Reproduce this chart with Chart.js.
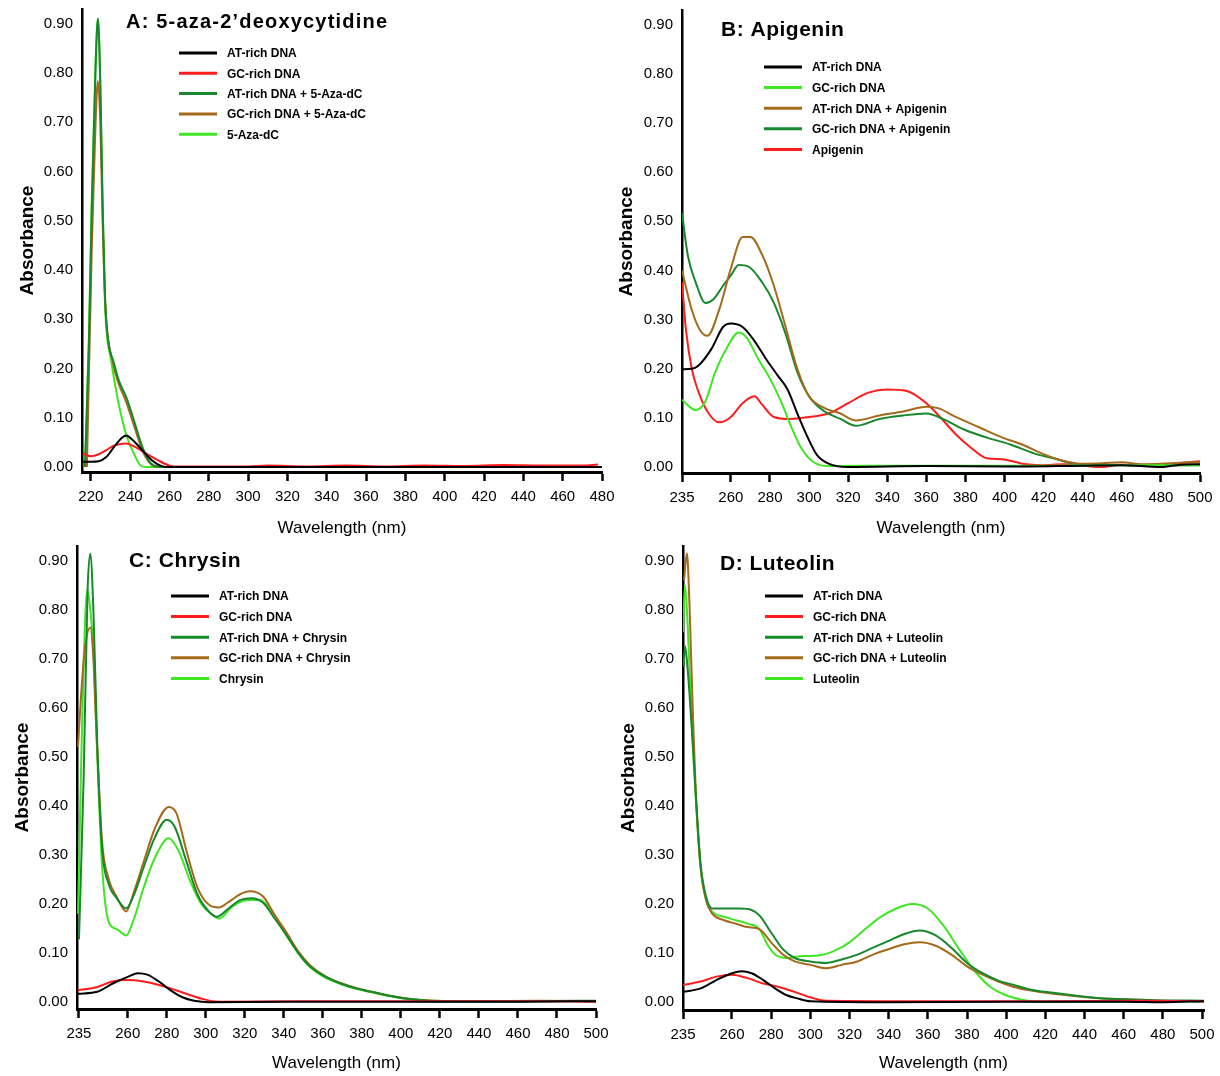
<!DOCTYPE html>
<html>
<head>
<meta charset="utf-8">
<script src="https://cdn.jsdelivr.net/npm/chart.js@4.4.1/dist/chart.umd.min.js"></script>
<style>
  body { margin: 0; background: #fff; }
  #wrap { position: relative; width: 1220px; height: 1076px; }
  .panel { position: absolute; }
</style>
</head>
<body>
<div id="wrap">
  <div class="panel" style="left:0;top:0;width:625px;height:540px"><canvas id="chartA"></canvas></div>
  <div class="panel" style="left:610px;top:0;width:610px;height:540px"><canvas id="chartB"></canvas></div>
  <div class="panel" style="left:0;top:540px;width:610px;height:536px"><canvas id="chartC"></canvas></div>
  <div class="panel" style="left:610px;top:540px;width:610px;height:536px"><canvas id="chartD"></canvas></div>
</div>
<script>
// tick labels
const yTicks = [0, 0.1, 0.2, 0.3, 0.4, 0.5, 0.6, 0.7, 0.8, 0.9];
const xTicksA = [220, 240, 260, 280, 300, 320, 340, 360, 380, 400, 420, 440, 460, 480];
const xTicksBCD = [235, 260, 280, 300, 320, 340, 360, 380, 400, 420, 440, 460, 480, 500];

// A: 5-aza-2'deoxycytidine
const aWlAT = [216, 220, 224, 228, 232, 236, 238, 241, 246, 251, 256, 260, 300, 360, 420, 480];
const aAbAT = [0.011, 0.011, 0.012, 0.021, 0.042, 0.060, 0.064, 0.056, 0.035, 0.014, 0.002, 0, 0, 0, 0, 0];
const aWlGC = [216, 220, 224, 228, 232, 234, 238, 242, 248, 254, 260, 264, 300, 310, 330, 350, 370, 390, 410, 430, 450, 470, 478];
const aAbGC = [0.028, 0.022, 0.026, 0.035, 0.044, 0.046, 0.048, 0.042, 0.028, 0.014, 0.003, 0.001, 0.001, 0.003, 0.001, 0.003, 0.001, 0.003, 0.002, 0.004, 0.003, 0.003, 0.005];
const aWlATDrug = [217, 219, 220.5, 222.4, 223.6, 224.8, 226, 227.3, 229.3, 231.3, 234.3, 238.2, 242.2, 246.1, 250, 254, 260, 480];
const aAbATDrug = [0, 0.25, 0.53, 0.81, 0.91, 0.78, 0.53, 0.336, 0.245, 0.217, 0.175, 0.14, 0.091, 0.042, 0.01, 0.001, 0, 0];
const aWlGCDrug = [218, 220.5, 222.4, 223.6, 224.8, 226, 227.3, 231.3, 234.3, 238.2, 242.2, 246.1, 250, 254, 480];
const aAbGCDrug = [0, 0.45, 0.70, 0.784, 0.70, 0.50, 0.336, 0.21, 0.168, 0.13, 0.081, 0.035, 0.008, 0, 0];
const aWlDrug = [217, 219, 220.5, 222.4, 223.6, 224.8, 226, 227.3, 230.3, 234.3, 238.2, 242.2, 245, 248, 480];
const aAbDrug = [0, 0.26, 0.55, 0.82, 0.91, 0.78, 0.52, 0.322, 0.217, 0.126, 0.063, 0.025, 0.004, 0, 0];

// B: Apigenin
const bWlAT = [235, 240, 243, 250, 256, 260, 266, 272, 278, 284, 289, 294, 299, 304, 310, 320, 360, 400, 440, 460, 480, 490, 500];
const bAbAT = [0.199, 0.200, 0.205, 0.240, 0.285, 0.292, 0.285, 0.257, 0.220, 0.186, 0.158, 0.109, 0.063, 0.025, 0.007, 0, 0.002, 0.001, 0.003, 0.004, 0, 0.005, 0.006];
const bWlGC = [235, 242, 247, 252, 258, 264, 268, 274, 280, 286, 291, 296, 302, 310, 360, 420, 460, 500];
const bAbGC = [0.137, 0.116, 0.134, 0.193, 0.243, 0.274, 0.264, 0.220, 0.180, 0.130, 0.081, 0.039, 0.011, 0.002, 0.003, 0.003, 0.004, 0.004];
const bWlATDrug = [235, 240, 244, 248, 254, 260, 266, 270, 276, 282, 288, 294, 300, 308, 316, 324, 336, 348, 360, 366, 375, 387, 399, 409, 419, 429, 439, 450, 460, 470, 480, 490, 500];
const bAbATDrug = [0.40, 0.32, 0.28, 0.267, 0.32, 0.404, 0.468, 0.468, 0.432, 0.369, 0.285, 0.200, 0.144, 0.120, 0.109, 0.095, 0.105, 0.113, 0.123, 0.120, 0.102, 0.081, 0.060, 0.046, 0.028, 0.014, 0.007, 0.008, 0.010, 0.006, 0.007, 0.009, 0.010];
const bWlGCDrug = [235, 238, 242, 247, 251, 256, 260, 264, 269, 276, 282, 288, 294, 300, 308, 316, 324, 336, 348, 360, 370, 379, 391, 403, 415, 425, 435, 450, 470, 500];
const bAbGCDrug = [0.517, 0.43, 0.376, 0.334, 0.341, 0.369, 0.390, 0.411, 0.408, 0.376, 0.334, 0.271, 0.193, 0.144, 0.113, 0.098, 0.084, 0.098, 0.105, 0.109, 0.095, 0.077, 0.060, 0.046, 0.028, 0.018, 0.007, 0.005, 0.003, 0.004];
const bWlDrug = [235, 237, 240, 243, 248, 254, 260, 266, 272, 276, 282, 290, 300, 310, 320, 330, 340, 350, 360, 367, 375, 383, 391, 399, 409, 419, 430, 440, 450, 460, 470, 480, 490, 500];
const bAbDrug = [0.376, 0.28, 0.20, 0.158, 0.113, 0.091, 0.102, 0.130, 0.144, 0.127, 0.102, 0.098, 0.102, 0.109, 0.130, 0.151, 0.158, 0.155, 0.130, 0.102, 0.067, 0.039, 0.018, 0.016, 0.007, 0.004, 0.006, 0.003, 0, 0.005, 0.004, 0.003, 0.008, 0.012];

// C: Chrysin
const cWlAT = [234.5, 244.4, 252.3, 260.3, 265.2, 270, 276, 282, 288, 294, 301.8, 340, 400, 460, 500];
const cAbAT = [0.017, 0.021, 0.038, 0.052, 0.059, 0.056, 0.042, 0.024, 0.010, 0.003, 0, 0.001, 0.001, 0.001, 0.002];
const cWlGC = [234.5, 244.4, 252, 260, 268, 276, 282, 290, 298, 306, 350, 420, 470, 500];
const cAbGC = [0.024, 0.031, 0.042, 0.045, 0.042, 0.035, 0.028, 0.017, 0.007, 0.001, 0.002, 0.002, 0.002, 0.001];
const cWlATDrug = [235, 237.4, 239.4, 240.8, 242.4, 244.4, 246.8, 250.3, 254.3, 259.2, 263.2, 268.1, 274, 280, 284, 290, 295.8, 301.8, 305.7, 311.7, 317.6, 323.6, 329.5, 335.4, 341.4, 347.3, 353.3, 361.2, 369.1, 377, 385, 392.9, 400.8, 408.7, 416.6, 440, 470, 500];
const cAbATDrug = [0.128, 0.455, 0.837, 0.914, 0.80, 0.525, 0.316, 0.240, 0.212, 0.191, 0.219, 0.274, 0.337, 0.372, 0.358, 0.288, 0.219, 0.184, 0.174, 0.191, 0.208, 0.212, 0.202, 0.170, 0.136, 0.101, 0.073, 0.052, 0.038, 0.028, 0.021, 0.014, 0.008, 0.005, 0.002, 0.002, 0.002, 0.003];
const cWlGCDrug = [234.5, 236, 238, 240.8, 242.4, 243.5, 246.8, 250.3, 254.3, 259.2, 263.2, 268.1, 274, 281, 285, 290, 295.8, 301.8, 306.7, 312, 317.6, 322.6, 329.5, 335.4, 341.4, 347.3, 353.3, 361.2, 369.1, 377, 385, 392.9, 400.8, 408.7, 416.6, 440, 470, 500];
const cAbGCDrug = [0.52, 0.62, 0.72, 0.764, 0.70, 0.594, 0.33, 0.25, 0.215, 0.185, 0.225, 0.285, 0.355, 0.398, 0.385, 0.310, 0.233, 0.198, 0.193, 0.205, 0.220, 0.226, 0.215, 0.177, 0.142, 0.104, 0.076, 0.053, 0.039, 0.029, 0.021, 0.014, 0.009, 0.005, 0.003, 0.002, 0.003, 0.002];
const cWlDrug = [234.5, 236.5, 238.4, 239.4, 240.8, 242.4, 244.4, 246.8, 250.3, 254.3, 259.2, 263.2, 268.1, 274, 281, 286, 292, 298, 303.8, 306.7, 313.7, 321.6, 327.5, 333.5, 341.4, 347.3, 353.3, 361.2, 369.1, 377, 385, 392.9, 400.8, 408.7, 418, 440, 500];
const cAbDrug = [0.18, 0.55, 0.80, 0.84, 0.80, 0.72, 0.50, 0.281, 0.163, 0.149, 0.136, 0.170, 0.233, 0.295, 0.334, 0.309, 0.247, 0.198, 0.177, 0.170, 0.195, 0.208, 0.208, 0.188, 0.136, 0.100, 0.072, 0.050, 0.037, 0.027, 0.020, 0.013, 0.008, 0.005, 0.003, 0.002, 0.002];

// D: Luteolin
const dWlAT = [235, 244, 252, 260, 265, 270, 276, 282, 288, 294, 300, 340, 400, 460, 480, 501];
const dAbAT = [0.021, 0.028, 0.045, 0.059, 0.063, 0.059, 0.045, 0.028, 0.014, 0.007, 0.002, 0, 0.001, 0.001, 0, 0.002];
const dWlGC = [235, 244, 252, 260, 268, 276, 284, 292, 300, 308, 360, 420, 470, 501];
const dAbGC = [0.035, 0.042, 0.052, 0.056, 0.049, 0.038, 0.031, 0.021, 0.010, 0.003, 0.002, 0.002, 0.003, 0.002];
const dWlATDrug = [235.3, 236, 237.4, 240, 241.6, 244, 247, 250, 256, 264, 270, 274, 280, 286, 292, 300, 308, 316, 324, 332, 340, 348, 356, 364, 372, 380, 388, 396, 404, 412, 424, 436, 448, 460, 476, 501];
const dAbATDrug = [0.685, 0.726, 0.678, 0.525, 0.42, 0.281, 0.212, 0.191, 0.191, 0.191, 0.188, 0.177, 0.142, 0.108, 0.090, 0.083, 0.080, 0.087, 0.097, 0.111, 0.125, 0.139, 0.146, 0.136, 0.111, 0.080, 0.059, 0.044, 0.035, 0.026, 0.019, 0.013, 0.008, 0.006, 0.004, 0.003];
const dWlGCDrug = [235.5, 237, 238.4, 240, 241.6, 244, 247, 250, 256, 262, 268, 274, 280, 286, 292, 300, 308, 316, 324, 332, 340, 348, 356, 364, 372, 380, 388, 396, 404, 412, 424, 436, 448, 460, 476, 501];
const dAbGCDrug = [0.86, 0.915, 0.80, 0.594, 0.42, 0.274, 0.205, 0.180, 0.167, 0.160, 0.153, 0.149, 0.122, 0.097, 0.083, 0.076, 0.069, 0.076, 0.083, 0.097, 0.108, 0.118, 0.122, 0.115, 0.097, 0.073, 0.056, 0.042, 0.031, 0.024, 0.017, 0.012, 0.008, 0.006, 0.003, 0.002];
const dWlDrug = [235, 236, 237.4, 240, 241.6, 244, 247, 250, 256, 262, 268, 274, 278, 282, 288, 296, 304, 312, 320, 328, 336, 344, 352, 360, 368, 376, 384, 392, 400, 408, 416, 460, 501];
const dAbDrug = [0.754, 0.85, 0.768, 0.525, 0.41, 0.274, 0.205, 0.184, 0.174, 0.167, 0.160, 0.149, 0.118, 0.097, 0.090, 0.094, 0.095, 0.104, 0.122, 0.149, 0.174, 0.191, 0.200, 0.191, 0.156, 0.108, 0.063, 0.031, 0.014, 0.005, 0.001, 0.001, 0.002];

const BLACK = '#000000';
const RED = '#ff1c1c';
const DKGREEN = '#17882c';
const BROWN = '#a5691b';
const LTGREEN = '#3ee624';

const FONT = '"Liberation Sans", Arial, sans-serif';
const NARROW = '"Liberation Sans Narrow", "Arial Narrow", "Liberation Sans", Arial, sans-serif';

// title + legend drawn inside the plot, like the original figure
const decor = {
  id: 'panelDecor',
  afterDraw(chart, args, o) {
    const ctx = chart.ctx;
    ctx.save();
    ctx.fillStyle = '#000';
    ctx.textBaseline = 'middle';
    ctx.textAlign = 'left';
    ctx.font = 'bold ' + o.titleSize + 'px ' + FONT;
    ctx.letterSpacing = o.titleSpacing + 'px';
    ctx.fillText(o.title, o.titleX, o.titleY);
    ctx.letterSpacing = '0px';
    ctx.font = 'bold 12px ' + FONT;
    chart.data.datasets.forEach((ds, i) => {
      const y = o.legY + i * o.legGap;
      ctx.strokeStyle = ds.borderColor;
      ctx.lineWidth = 3;
      ctx.beginPath();
      ctx.moveTo(o.legX, y);
      ctx.lineTo(o.legX + 38, y);
      ctx.stroke();
      ctx.fillText(ds.label, o.legX + 48, y + 1);
    });
    ctx.restore();
  }
};

function series(label, wl, ab, color) {
  return {
    label: label,
    data: wl.map((x, i) => ({ x: x, y: ab[i] })),
    borderColor: color,
    borderWidth: 2,
    pointRadius: 0,
    fill: false,
    cubicInterpolationMode: 'monotone'
  };
}

function noPad(s) {
  s.paddingLeft = 0; s.paddingRight = 0; s.paddingTop = 0; s.paddingBottom = 0;
}

function makeChart(id, p) {
  return new Chart(document.getElementById(id), {
    type: 'line',
    data: { datasets: p.datasets },
    options: {
      responsive: true,
      maintainAspectRatio: false,
      animation: false,
      layout: { autoPadding: false, padding: { left: 0, right: p.padRight, top: p.padTop, bottom: 0 } },
      plugins: {
        legend: { display: false },
        tooltip: { enabled: false },
        panelDecor: p.decor
      },
      scales: {
        x: {
          type: 'linear',
          min: p.xMin,
          max: p.xMax,
          afterBuildTicks: s => { s.ticks = p.xTicks.map(v => ({ value: v })); },
          afterFit: s => { s.height = p.xHeight; noPad(s); },
          grid: { display: true, drawOnChartArea: false, drawTicks: true, tickLength: 9, tickWidth: 2.5, tickColor: '#000' },
          border: { display: true, color: '#000', width: 3 },
          ticks: { color: '#000', font: { family: NARROW, size: 15 }, padding: 7, maxRotation: 0, autoSkip: false },
          title: { display: true, text: 'Wavelength (nm)', color: '#000', font: { family: FONT, size: 17 }, padding: { top: 0, bottom: p.xTitlePad } }
        },
        y: {
          type: 'linear',
          min: p.yMin,
          max: 0.93,
          afterBuildTicks: s => { s.ticks = yTicks.map(v => ({ value: v })); },
          afterFit: s => { s.width = p.yWidth; noPad(s); },
          grid: { display: false, drawTicks: false },
          border: { display: true, color: '#000', width: 2.5 },
          ticks: { color: '#000', font: { family: NARROW, size: 15 }, padding: 9, callback: v => v.toFixed(2) },
          title: { display: true, text: 'Absorbance', color: '#000', font: { family: FONT, size: 19, weight: 'bold' }, padding: { top: p.yTitlePad, bottom: 0 } }
        }
      }
    },
    plugins: [decor]
  });
}

makeChart('chartA', {
  datasets: [
    series('AT-rich DNA', aWlAT, aAbAT, BLACK),
    series('GC-rich DNA', aWlGC, aAbGC, RED),
    series('AT-rich DNA + 5-Aza-dC', aWlATDrug, aAbATDrug, DKGREEN),
    series('GC-rich DNA + 5-Aza-dC', aWlGCDrug, aAbGCDrug, BROWN),
    series('5-Aza-dC', aWlDrug, aAbDrug, LTGREEN)
  ],
  xMin: 215.5, xMax: 480, xTicks: xTicksA, yMin: -0.010,
  padRight: 23, padTop: 9, xHeight: 68, yWidth: 82, xTitlePad: 1, yTitlePad: 16,
  decor: { title: 'A: 5-aza-2\u2019deoxycytidine', titleSize: 20, titleSpacing: 1.2, titleX: 126, titleY: 22,
           legX: 179, legY: 53, legGap: 20.3 }
});

makeChart('chartB', {
  datasets: [
    series('AT-rich DNA', bWlAT, bAbAT, BLACK),
    series('GC-rich DNA', bWlGC, bAbGC, LTGREEN),
    series('AT-rich DNA + Apigenin', bWlATDrug, bAbATDrug, BROWN),
    series('GC-rich DNA + Apigenin', bWlGCDrug, bAbGCDrug, DKGREEN),
    series('Apigenin', bWlDrug, bAbDrug, RED)
  ],
  xMin: 235, xMax: 500, xTicks: xTicksBCD, yMin: -0.012,
  padRight: 20, padTop: 10, xHeight: 67, yWidth: 72, xTitlePad: 1, yTitlePad: 5,
  decor: { title: 'B: Apigenin', titleSize: 21, titleSpacing: 0.5, titleX: 111, titleY: 30,
           legX: 154, legY: 67, legGap: 20.6 }
});

makeChart('chartC', {
  datasets: [
    series('AT-rich DNA', cWlAT, cAbAT, BLACK),
    series('GC-rich DNA', cWlGC, cAbGC, RED),
    series('AT-rich DNA + Chrysin', cWlATDrug, cAbATDrug, DKGREEN),
    series('GC-rich DNA + Chrysin', cWlGCDrug, cAbGCDrug, BROWN),
    series('Chrysin', cWlDrug, cAbDrug, LTGREEN)
  ],
  xMin: 234, xMax: 500, xTicks: xTicksBCD, yMin: -0.014,
  padRight: 14, padTop: 6, xHeight: 67, yWidth: 77, xTitlePad: 2, yTitlePad: 11,
  decor: { title: 'C: Chrysin', titleSize: 21, titleSpacing: 0.6, titleX: 129, titleY: 21,
           legX: 171, legY: 56, legGap: 20.6 }
});

makeChart('chartD', {
  datasets: [
    series('AT-rich DNA', dWlAT, dAbAT, BLACK),
    series('GC-rich DNA', dWlGC, dAbGC, RED),
    series('AT-rich DNA + Luteolin', dWlATDrug, dAbATDrug, DKGREEN),
    series('GC-rich DNA + Luteolin', dWlGCDrug, dAbGCDrug, BROWN),
    series('Luteolin', dWlDrug, dAbDrug, LTGREEN)
  ],
  xMin: 235, xMax: 501, xTicks: xTicksBCD, yMin: -0.016,
  padRight: 16, padTop: 6, xHeight: 66, yWidth: 73, xTitlePad: 2, yTitlePad: 7,
  decor: { title: 'D: Luteolin', titleSize: 21, titleSpacing: 0.5, titleX: 110, titleY: 24,
           legX: 155, legY: 56, legGap: 20.6 }
});
</script>
</body>
</html>
